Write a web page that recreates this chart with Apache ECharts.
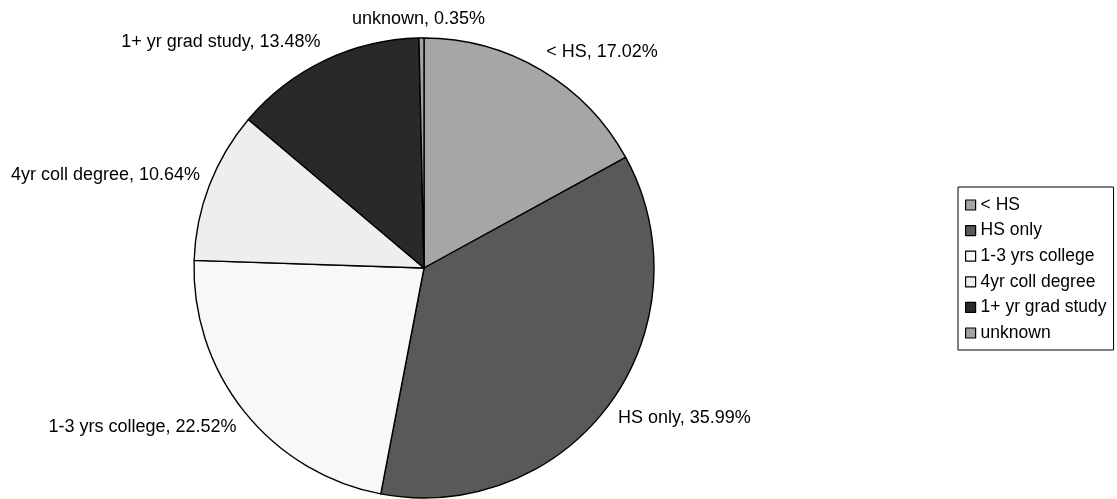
<!DOCTYPE html>
<html>
<head>
<meta charset="utf-8">
<script src="https://cdn.jsdelivr.net/npm/echarts@6/dist/echarts.min.js"></script>
<style>
html,body{margin:0;padding:0;background:#fff;}
#chart{width:1117px;height:499px;}
</style>
</head>
<body>
<div id="chart"></div>
<script>
var categories = ['< HS', 'HS only', '1-3 yrs college', '4yr coll degree', '1+ yr grad study', 'unknown'];
var values = [17.02, 35.99, 22.52, 10.64, 13.48, 0.35];
var colors = ['#a6a6a6', '#595959', '#f8f8f8', '#eeeeee', '#292929', '#a3a3a3'];

var FONT = 'Liberation Sans, Arial, Helvetica, sans-serif';
var CX = 424, CY = 268, R = 230, GAP = 10;

var total = values.reduce(function (a, b) { return a + b; }, 0);
function clamp(v) { return Math.max(-1, Math.min(1, v)); }

var chart = echarts.init(document.getElementById('chart'), null, { renderer: 'canvas' });
chart.setOption({
  animation: false,
  backgroundColor: '#ffffff',
  color: colors,
  legend: {
    orient: 'vertical',
    left: 958,
    top: 187,
    padding: [8, 7, 7, 7],
    itemGap: 5.6,
    itemWidth: 10,
    itemHeight: 10,
    icon: 'rect',
    borderColor: '#000',
    borderWidth: 1,
    itemStyle: { borderColor: '#000', borderWidth: 1.2 },
    textStyle: { fontFamily: FONT, fontSize: 17.5, color: '#000', lineHeight: 20 },
    data: categories
  },
  series: [{
    type: 'pie',
    center: [CX, CY],
    radius: R,
    startAngle: 90,
    clockwise: true,
    avoidLabelOverlap: false,
    itemStyle: { borderColor: '#000', borderWidth: 1.4 },
    emphasis: { disabled: true },
    label: {
      show: true,
      position: 'outside',
      formatter: function (p) { return p.name + ', ' + p.value.toFixed(2) + '%'; },
      fontFamily: FONT,
      fontSize: 18,
      color: '#000'
    },
    labelLine: { show: false },
    labelLayout: function (p) {
      var i = p.dataIndex;
      var before = 0;
      for (var j = 0; j < i; j++) before += values[j];
      var mid = (before + values[i] / 2) / total * 2 * Math.PI;
      var s = Math.sin(mid), c = Math.cos(mid);
      var ax = CX + (R + GAP) * s, ay = CY - (R + GAP) * c;
      var w = p.labelRect.width, h = p.labelRect.height;
      return {
        x: ax + clamp(s * 4) * w / 2,
        y: ay + clamp(-c * 2) * h / 2,
        align: 'center',
        verticalAlign: 'middle'
      };
    },
    data: categories.map(function (n, i) { return { name: n, value: values[i] }; })
  }]
});
</script>
</body>
</html>
